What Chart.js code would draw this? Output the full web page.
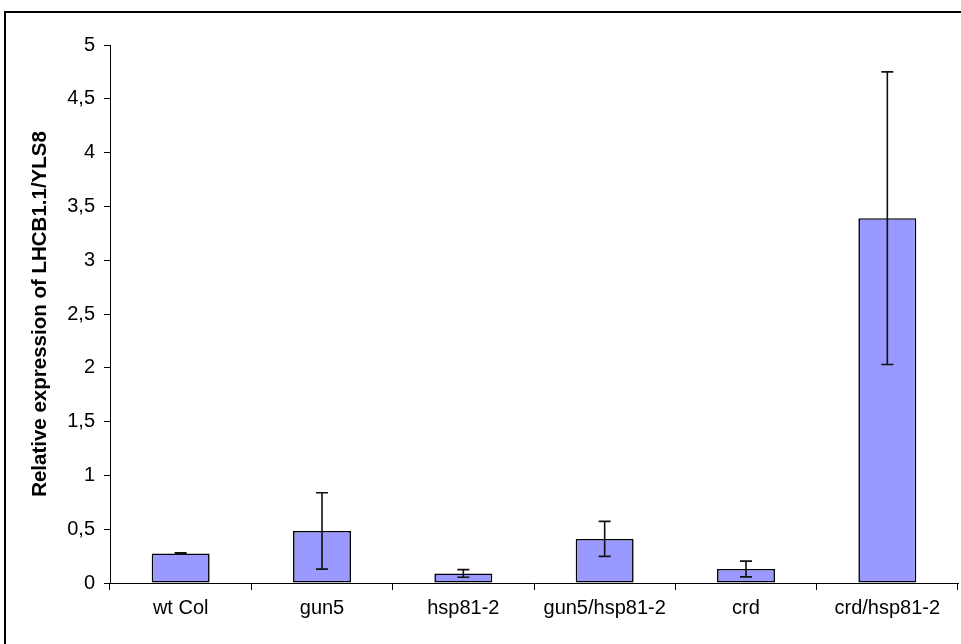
<!DOCTYPE html>
<html>
<head>
<meta charset="utf-8">
<script src="https://cdn.jsdelivr.net/npm/chart.js@4/dist/chart.umd.min.js"></script>
<style>
  html, body { margin: 0; padding: 0; background: #ffffff; }
  #wrap { position: relative; width: 961px; height: 644px; }
</style>
</head>
<body>
<div id="wrap"><canvas id="c" width="961" height="644"></canvas></div>
<script>
// Genotypes on the category axis
const categories = ['wt Col', 'gun5', 'hsp81-2', 'gun5/hsp81-2', 'crd', 'crd/hsp81-2'];
// Mean relative expression of LHCB1.1 normalised to YLS8
const expression = [0.275, 0.484, 0.089, 0.41, 0.13, 3.39];
// Standard deviation for each genotype
const deviation = [0.005, 0.355, 0.035, 0.163, 0.073, 1.36];
// Value-axis tick labels (decimal comma)
const yTickLabels = ['0', '0,5', '1', '1,5', '2', '2,5', '3', '3,5', '4', '4,5', '5'];

const FONT = '"Liberation Sans", Arial, sans-serif';

// Whiskers with end caps on each bar
const errorBars = {
  id: 'errorBars',
  afterDatasetsDraw(chart) {
    const ctx = chart.ctx;
    const y = chart.scales.y;
    const meta = chart.getDatasetMeta(0);
    ctx.save();
    ctx.strokeStyle = '#111111';
    ctx.lineWidth = 1.6;
    meta.data.forEach((bar, i) => {
      const v = expression[i], e = deviation[i];
      const top = y.getPixelForValue(v + e);
      const bot = y.getPixelForValue(v - e);
      const x = bar.x;
      ctx.beginPath();
      ctx.moveTo(x, top); ctx.lineTo(x, bot);
      ctx.moveTo(x - 6, top); ctx.lineTo(x + 6, top);
      ctx.moveTo(x - 6, bot); ctx.lineTo(x + 6, bot);
      ctx.stroke();
    });
    ctx.restore();
  }
};

// Frame around the whole chart
const frame = {
  id: 'frame',
  afterDraw(chart) {
    const ctx = chart.ctx;
    ctx.save();
    ctx.strokeStyle = '#000000';
    ctx.lineWidth = 2;
    ctx.strokeRect(5, 12, 1000, 700);
    ctx.restore();
  }
};

new Chart(document.getElementById('c'), {
  type: 'bar',
  data: {
    labels: categories,
    datasets: [{
      data: expression,
      backgroundColor: '#9999FF',
      borderColor: '#000000',
      borderWidth: 1.6,
      borderSkipped: false,
      barPercentage: 0.41,
      categoryPercentage: 1.0
    }]
  },
  options: {
    responsive: false,
    animation: false,
    devicePixelRatio: 1,
    layout: { padding: { left: 0, right: 3, top: 45, bottom: 0 } },
    plugins: {
      legend: { display: false },
      tooltip: { enabled: false }
    },
    scales: {
      x: {
        offset: true,
        grid: {
          display: true,
          offset: true,
          drawOnChartArea: false,
          drawTicks: true,
          tickLength: 7,
          color: '#000000',
          lineWidth: 1
        },
        border: { display: true, color: '#000000', width: 1 },
        ticks: {
          color: '#000000',
          font: { family: FONT, size: 20 },
          padding: 6,
          maxRotation: 0,
          autoSkip: false
        },
        afterFit(scale) { scale.height = 61; }
      },
      y: {
        min: 0,
        max: 5,
        grid: {
          display: true,
          drawOnChartArea: false,
          drawTicks: true,
          tickLength: 6,
          color: '#000000',
          lineWidth: 1
        },
        border: { display: true, color: '#000000', width: 1 },
        ticks: {
          stepSize: 0.5,
          color: '#000000',
          font: { family: FONT, size: 20 },
          padding: 9,
          callback: (value, index) => yTickLabels[index]
        },
        title: {
          display: true,
          text: 'Relative expression of LHCB1.1/YLS8',
          color: '#000000',
          font: { family: FONT, size: 20.5, weight: 'bold' },
          padding: { top: 28, bottom: 0 }
        },
        afterFit(scale) { scale.width = 110; }
      }
    }
  },
  plugins: [errorBars, frame]
});
</script>
</body>
</html>
